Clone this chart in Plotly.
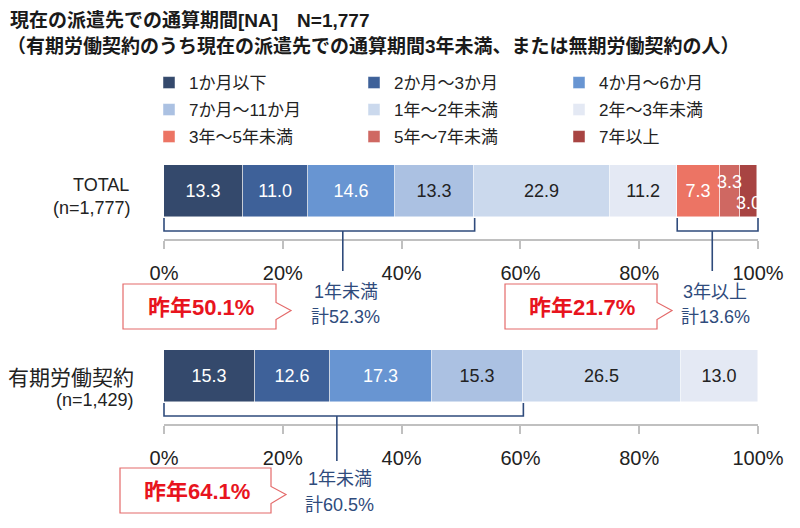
import plotly.graph_objects as go

# ---- data ----
categories = ["1か月以下", "2か月～3か月", "4か月～6か月", "7か月～11か月",
              "1年～2年未満", "2年～3年未満", "3年～5年未満", "5年～7年未満", "7年以上"]
total_values = [13.3, 11.0, 14.6, 13.3, 22.9, 11.2, 7.3, 3.3, 3.0]
fixed_values = [15.3, 12.6, 17.3, 15.3, 26.5, 13.0]
row_labels = ["TOTAL", "有期労働契約"]
row_counts = ["(n=1,777)", "(n=1,429)"]
tick_vals = [0, 20, 40, 60, 80, 100]
tick_text = ["0%", "20%", "40%", "60%", "80%", "100%"]

# bracket summaries
total_under_1y = 52.3
total_over_3y = 13.6
fixed_under_1y = 60.5
last_year_labels = ["昨年50.1%", "昨年21.7%", "昨年64.1%"]
group_labels = ["1年未満", "3年以上", "1年未満"]

colors = ["#34496c", "#3e6199", "#6895d2", "#abc1e2", "#cbd9ed",
          "#e4e9f4", "#ec7464", "#cf6862", "#a84442"]
text_colors = ["white", "white", "white", "#222222", "#222222", "#222222",
               "white", "white", "white"]

FONT = "Liberation Sans, Noto Sans CJK JP"
W, H = 800, 528
OFF = 8  # page body margin shifts the figure by this much


def px(x):
    return (x - OFF) / W


def py(y):
    return 1 - (y - OFF) / H


X_DOM = [px(164), px(758)]


def xp(v):
    # percent value -> paper x
    return X_DOM[0] + v / 100 * (X_DOM[1] - X_DOM[0])


y_range = [-(239 - 191) / 52, (191 - 160) / 52]

fig = go.Figure()

# one legend per row of three entries
legend_ids = ["legend", "legend2", "legend3"]

# TOTAL bar
for i, (name, v) in enumerate(zip(categories, total_values)):
    fig.add_trace(go.Bar(
        x=[v], y=[0], orientation="h", width=1, name=name, legendgroup=name,
        legend=legend_ids[i // 3],
        marker=dict(color=colors[i], line=dict(color="rgba(255,255,255,0.6)", width=0.8)),
        text=[f"{v:.1f}"], textposition="inside" if i < 7 else "none",
        insidetextanchor="middle", constraintext="none",
        textfont=dict(color=text_colors[i], size=18, family=FONT),
        xaxis="x", yaxis="y", hoverinfo="skip"))

# fixed-term contract bar
for i, (name, v) in enumerate(zip(categories, fixed_values)):
    fig.add_trace(go.Bar(
        x=[v], y=[0], orientation="h", width=1, name=name, legendgroup=name,
        showlegend=False,
        marker=dict(color=colors[i], line=dict(color="rgba(255,255,255,0.6)", width=0.8)),
        text=[f"{v:.1f}"], textposition="inside",
        insidetextanchor="middle", constraintext="none",
        textfont=dict(color=text_colors[i], size=18, family=FONT),
        xaxis="x2", yaxis="y2", hoverinfo="skip"))


def ann(x, y, text, size, color="#222222", xanchor="center", bold=False):
    fig.add_annotation(x=x, y=y, xref="paper", yref="paper", xanchor=xanchor,
                       yanchor="middle", showarrow=False,
                       text=f"<b>{text}</b>" if bold else text,
                       font=dict(size=size, color=color, family=FONT))


# small segments labelled stacked above/below
cum = sum(total_values[:7])
for k, shift in ((7, 9), (8, -12)):
    fig.add_annotation(x=cum + total_values[k] / 2, y=0, xref="x", yref="y",
                       xanchor="center", yanchor="middle",
                       text=f"{total_values[k]:.1f}", showarrow=False, yshift=shift,
                       font=dict(color="white", size=18, family=FONT))
    cum += total_values[k]

axis_common = dict(
    range=[0, 100], tickvals=tick_vals, ticktext=tick_text, showline=True,
    linecolor="#c0c0c0", linewidth=1.5, ticks="outside", ticklen=8,
    tickcolor="#c0c0c0", tickwidth=1.5, showgrid=False, zeroline=False,
    tickfont=dict(size=20, color="#222222", family=FONT), ticklabelstandoff=7,
    fixedrange=True, automargin=False)

legend_common = dict(orientation="h", xanchor="left", yanchor="middle",
                     entrywidth=160, font=dict(size=17, family=FONT, color="#222222"),
                     bgcolor="rgba(0,0,0,0)", traceorder="normal")

fig.update_layout(
    width=W, height=H, barmode="stack", bargap=0,
    paper_bgcolor="white", plot_bgcolor="white",
    margin=dict(l=0, r=0, t=0, b=0, autoexpand=False),
    font=dict(family=FONT, color="#222222"),
    xaxis=dict(domain=X_DOM, anchor="y", **axis_common),
    yaxis=dict(domain=[py(239), py(160)], range=y_range, visible=False, fixedrange=True),
    xaxis2=dict(domain=X_DOM, anchor="y2", **axis_common),
    yaxis2=dict(domain=[py(424), py(345)], range=y_range, visible=False, fixedrange=True),
    legend=dict(x=px(149), y=py(83), **legend_common),
    legend2=dict(x=px(149), y=py(110), **legend_common),
    legend3=dict(x=px(149), y=py(137), **legend_common),
    showlegend=True,
)

# title
ann(px(8), py(20), "現在の派遣先での通算期間[NA]　N=1,777", 19, "#1a1a1a", "left", True)
ann(px(5), py(46), "（有期労働契約のうち現在の派遣先での通算期間3年未満、または無期労働契約の人）",
    19, "#1a1a1a", "left", True)

# row labels
ann(px(131), py(185), row_labels[0], 18, xanchor="right")
ann(px(133), py(208), row_counts[0], 18, xanchor="right")
ann(px(136), py(377), row_labels[1], 21, xanchor="right")
ann(px(136), py(400), row_counts[1], 18, xanchor="right")

BLUE = "#2f4b7c"
RED_LINE = "#e46a6a"
RED_TEXT = "#e8141e"

# brackets: (start %, end %, top px, level px, stem %, stem end px)
brackets = [
    (0, total_under_1y, 218, 231, 30.1, 271),
    (100 - total_over_3y, 100, 218, 231, 92.3, 271),
    (0, fixed_under_1y, 403, 416, 29.1, 461),
]
for (a, b, top, lvl, stem, stem_end) in brackets:
    fig.add_shape(type="path", xref="paper", yref="paper",
                  path=f"M{xp(a)},{py(top)} L{xp(a)},{py(lvl)} L{xp(b)},{py(lvl)} L{xp(b)},{py(top)}",
                  line=dict(color=BLUE, width=1.6))
    fig.add_shape(type="line", xref="paper", yref="paper",
                  x0=xp(stem), x1=xp(stem), y0=py(lvl), y1=py(stem_end),
                  line=dict(color=BLUE, width=1.6))

# group sum texts
sums = [total_under_1y, total_over_3y, fixed_under_1y]
text_rows = [(292, 317), (292, 317), (479, 505)]
for (a, b, top, lvl, stem, stem_end), g, s, (y1, y2) in zip(brackets, group_labels, sums, text_rows):
    ann(xp(stem) + 3 / W, py(y1), g, 18, BLUE)
    ann(xp(stem) + 3 / W, py(y2), f"計{s}%", 18, BLUE)

# callout boxes (left, right, top, bottom, tail tip x)
boxes = [(123, 276, 284, 329, 291), (505, 657, 284, 329, 672), (120, 271, 468, 513, 286)]
for (l, r, t, bt, tip), label in zip(boxes, last_year_labels):
    mid = (t + bt) / 2
    path = (f"M{px(l)},{py(t)} L{px(r)},{py(t)} L{px(r)},{py(mid - 4)} "
            f"L{px(tip)},{py(mid + 4)} L{px(r)},{py(mid + 13)} L{px(r)},{py(bt)} "
            f"L{px(l)},{py(bt)} Z")
    fig.add_shape(type="path", xref="paper", yref="paper", path=path,
                  line=dict(color=RED_LINE, width=1.2), fillcolor="white")
    ann(px((l + r) / 2 + 1), py(mid + 1), label, 22, RED_TEXT, bold=True)

fig.write_html("out.html")
